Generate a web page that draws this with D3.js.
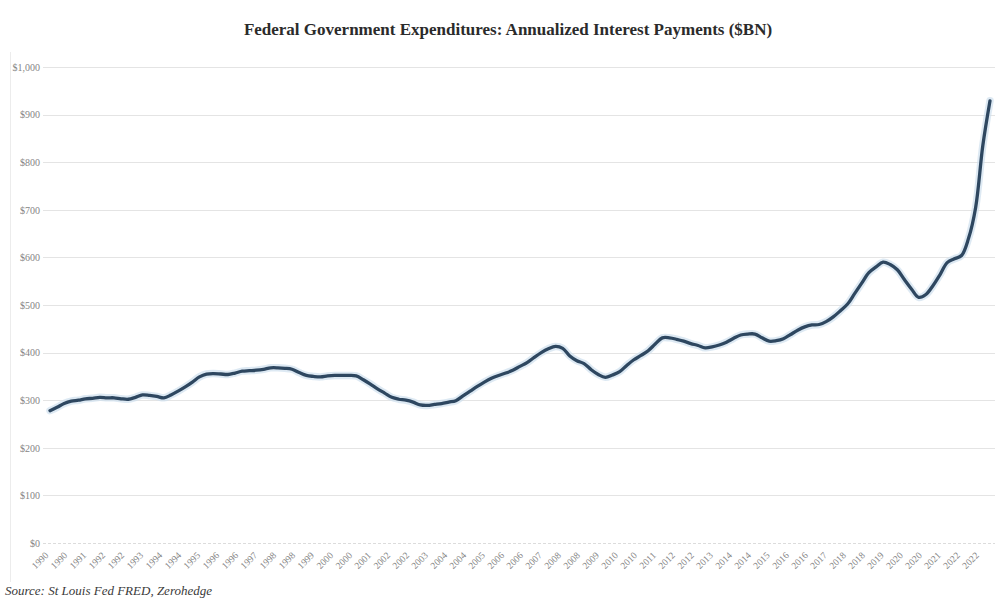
<!DOCTYPE html>
<html>
<head>
<meta charset="utf-8">
<script src="https://cdn.jsdelivr.net/npm/d3@7"></script>
<style>
  html, body { margin: 0; padding: 0; background: #ffffff; }
  svg { display: block; }
</style>
</head>
<body>
<svg id="chart" width="999" height="600"></svg>
<script>
// ---------------- DATA ----------------
const titleText = "Federal Government Expenditures: Annualized Interest Payments ($BN)";
const sourceText = "Source: St Louis Fed FRED, Zerohedge";
const startDate = new Date(1990, 0, 1);   // first quarter shown (1990 Q1)
const endDate = new Date(2023, 0, 1);     // last quarter shown (2023 Q1)

// Quarterly annualized interest payments, $BN, 1990Q1 .. 2023Q1
const interestValues = [
  278, 285, 293, 298, 300, 303, 304, 306, 305, 305,
  303, 302, 306, 311, 310, 308, 305, 311, 319, 328,
  338, 349, 355, 356, 355, 354, 357, 361, 362, 363,
  365, 368, 368, 367, 365, 358, 352, 350, 349, 351,
  352, 352, 352, 351, 343, 334, 324, 315, 306, 302,
  300, 296, 290, 289, 291, 293, 296, 299, 309, 319,
  329, 338, 346, 352, 357, 363, 371, 379, 390, 400,
  408, 413, 409, 393, 383, 377, 364, 354, 348, 353,
  360, 373, 385, 394, 404, 418, 431, 431, 428, 424,
  419, 415, 410, 412, 416, 422, 430, 437, 439, 439,
  431, 424, 425, 429, 438, 447, 454, 458, 459, 465,
  475, 488, 502, 524, 546, 568, 580, 590, 585, 574,
  553, 533, 516, 522, 541, 564, 589, 597, 604, 640,
  705, 835, 929
];

const yTicks = [0, 100, 200, 300, 400, 500, 600, 700, 800, 900, 1000];

// Category-axis labels (one every 8 months, starting Jan 1990)
const xTickLabels = [
  "1990","1990","1991","1992","1992","1993","1994","1994","1995","1996",
  "1996","1997","1998","1998","1999","2000","2000","2001","2002","2002",
  "2003","2004","2004","2005","2006","2006","2007","2008","2008","2009",
  "2010","2010","2011","2012","2012","2013","2014","2014","2015","2016",
  "2016","2017","2018","2018","2019","2020","2020","2021","2022","2022"
];
const xTickStepMonths = 8;

// ---------------- CHART ----------------
const svg = d3.select("#chart");
const W = 999, H = 600;
const plot = { left: 50, right: 990, top: 67, bottom: 543, gridLeft: 43, gridRight: 995 };
const serif = "'Liberation Serif', 'DejaVu Serif', serif";

const quarterDates = interestValues.map((_, i) => d3.timeMonth.offset(startDate, 3 * i));
const data = interestValues.map((v, i) => ({ date: quarterDates[i], value: v }));

const x = d3.scaleTime().domain([startDate, endDate]).range([plot.left, plot.right]);
const y = d3.scaleLinear().domain([0, 1000]).range([plot.bottom, plot.top]);

svg.append("rect").attr("width", W).attr("height", H).attr("fill", "#ffffff");

// faint chart frame edge at left
svg.append("line")
  .attr("x1", 10.5).attr("x2", 10.5)
  .attr("y1", 52).attr("y2", 582)
  .attr("stroke", "#ececec").attr("stroke-width", 1);

// Title
svg.append("text")
  .attr("x", 508).attr("y", 35)
  .attr("text-anchor", "middle")
  .attr("font-family", serif)
  .attr("font-weight", "bold")
  .attr("font-size", 17)
  .attr("fill", "#2b2b2b")
  .text(titleText);

// Y axis with gridlines
const yAxis = d3.axisLeft(y)
  .tickValues(yTicks)
  .tickSize(0)
  .tickPadding(0)
  .tickFormat(d => "$" + d3.format(",")(d));

const gY = svg.append("g")
  .attr("transform", `translate(40,0)`)
  .call(yAxis);
gY.select(".domain").remove();
gY.selectAll("text")
  .attr("font-family", serif)
  .attr("font-size", 10)
  .attr("fill", "#858585");

svg.append("g")
  .selectAll("line")
  .data(yTicks.filter(d => d > 0))
  .join("line")
  .attr("x1", plot.gridLeft).attr("x2", plot.gridRight)
  .attr("y1", d => Math.round(y(d)) + 0.5).attr("y2", d => Math.round(y(d)) + 0.5)
  .attr("stroke", "#e4e4e4").attr("stroke-width", 1.2);

// zero axis line
svg.append("line")
  .attr("x1", plot.gridLeft).attr("x2", plot.gridRight)
  .attr("y1", Math.round(y(0)) + 0.5).attr("y2", Math.round(y(0)) + 0.5)
  .attr("stroke", "#dcdcdc").attr("stroke-width", 1)
  .attr("stroke-dasharray", "3,2");

// X axis labels (rotated)
const xTickDates = xTickLabels.map((_, k) => d3.timeMonth.offset(startDate, xTickStepMonths * k));
const gX = svg.append("g");
gX.selectAll("text")
  .data(xTickLabels)
  .join("text")
  .attr("transform", (d, k) => `translate(${x(xTickDates[k]) - 1},556) rotate(-45)`)
  .attr("text-anchor", "end")
  .attr("font-family", serif)
  .attr("font-size", 9.5)
  .attr("fill", "#858585")
  .text(d => d);

// Line
const line = d3.line()
  .x(d => x(d.date))
  .y(d => y(d.value))
  .curve(d3.curveCatmullRom.alpha(0.5));

svg.append("path")
  .datum(data)
  .attr("d", line)
  .attr("fill", "none")
  .attr("stroke", "#cfe0ee")
  .attr("stroke-width", 7.5)
  .attr("stroke-opacity", 0.7)
  .attr("stroke-linejoin", "round")
  .attr("stroke-linecap", "round");

svg.append("path")
  .datum(data)
  .attr("d", line)
  .attr("fill", "none")
  .attr("stroke", "#2e4760")
  .attr("stroke-width", 3.3)
  .attr("stroke-linejoin", "round")
  .attr("stroke-linecap", "round");

// Source
svg.append("text")
  .attr("x", 5).attr("y", 595)
  .attr("font-family", serif)
  .attr("font-style", "italic")
  .attr("font-size", 13)
  .attr("fill", "#3a3a3a")
  .text(sourceText);
</script>
</body>
</html>
